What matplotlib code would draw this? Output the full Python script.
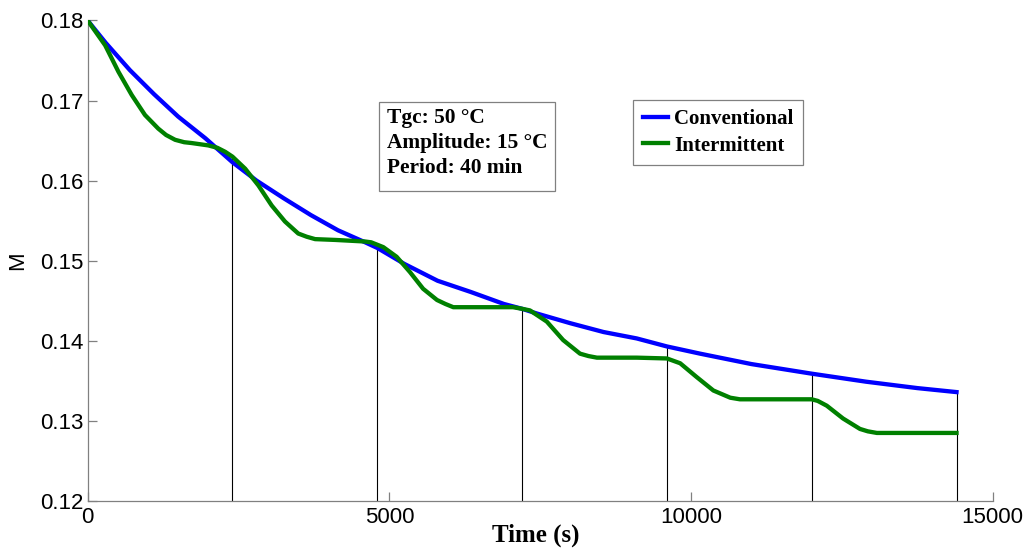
import matplotlib.pyplot as plt
import matplotlib.patches as patches
import numpy as np

# moisture content M vs time, conventional vs intermittent drying
t_conv = [0, 300, 700, 1100, 1500, 1950, 2400, 2800, 3250, 3700, 4150, 4600,
          4800, 5250, 5800, 6350, 6900, 7200, 7450, 8000, 8550, 9100, 9600,
          10150, 11000, 12000, 12900, 13750, 14400]
m_conv = [0.1800, 0.1772, 0.1738, 0.1708, 0.1680, 0.1653, 0.1623, 0.1600,
          0.1578, 0.1557, 0.1538, 0.1523, 0.1516, 0.1496, 0.1475, 0.1461,
          0.1446, 0.1440, 0.1434, 0.1422, 0.1411, 0.1403, 0.1393, 0.1384,
          0.1371, 0.1359, 0.1349, 0.1341, 0.1336]

t_int = [0, 290, 510, 730, 950, 1170, 1300, 1450, 1600, 1720, 2000, 2150,
         2280, 2400, 2610, 2830, 3050, 3270, 3490, 3630, 3770, 4100, 4600,
         4700, 4800, 4900, 5120, 5340, 5560, 5790, 5930, 6060, 6610, 7050,
         7200, 7330, 7610, 7880, 8160, 8300, 8440, 9100, 9600, 9820, 10090,
         10370, 10650, 10730, 10810, 11530, 12000, 12100, 12250, 12520,
         12800, 12930, 13080, 13740, 14400]
m_int = [0.1800, 0.1769, 0.1736, 0.1707, 0.1682, 0.1665, 0.1657, 0.1651,
         0.1648, 0.1647, 0.1644, 0.1641, 0.1636, 0.1630, 0.1615, 0.1594,
         0.1569, 0.1549, 0.1534, 0.1530, 0.1527, 0.1526, 0.1524, 0.1523,
         0.1520, 0.1517, 0.1505, 0.1486, 0.1465, 0.1451, 0.1446, 0.1442,
         0.1442, 0.1442, 0.1440, 0.1438, 0.1424, 0.1401, 0.1384, 0.1381,
         0.1379, 0.1379, 0.1378, 0.1372, 0.1355, 0.1338, 0.1329, 0.1328,
         0.1327, 0.1327, 0.1327, 0.1325, 0.1319, 0.1303, 0.1290, 0.1287,
         0.1285, 0.1285, 0.1285]

# end of each 40 min heating cycle
cycle_ends = [2400, 4800, 7200, 9600, 12000, 14400]

info_lines = ["Tgc: 50 \u00b0C", "Amplitude: 15 \u00b0C", "Period: 40 min"]

plt.rcParams['font.family'] = ['Liberation Sans', 'DejaVu Sans']
serif_bold = dict(family=['Liberation Serif', 'DejaVu Serif'], weight='bold')

fig = plt.figure(figsize=(10.30, 5.49), dpi=100)
ax = fig.add_axes([0.0851, 0.0874, 0.8787, 0.8753])

# cycle markers go up to the higher of the two curves
tops = np.maximum(np.interp(cycle_ends, t_conv, m_conv),
                  np.interp(cycle_ends, t_int, m_int))
ax.vlines(cycle_ends, 0.12, tops, color='black', lw=0.8, zorder=1)

ax.plot(t_conv, m_conv, color=(0, 0, 1), lw=3.1, label='Conventional', zorder=2,
        solid_joinstyle='round')
ax.plot(t_int, m_int, color=(0, 0.5, 0), lw=3.1, label='Intermittent', zorder=3,
        solid_joinstyle='round')

ax.set_xlim(0, 15000)
ax.set_ylim(0.12, 0.18)
ax.set_xticks([0, 5000, 10000, 15000])
ax.set_yticks([0.12, 0.13, 0.14, 0.15, 0.16, 0.17, 0.18])
ax.set_yticklabels(['0.12', '0.13', '0.14', '0.15', '0.16', '0.17', '0.18'])

for side in ['top', 'right']:
    ax.spines[side].set_visible(False)
for side in ['left', 'bottom']:
    ax.spines[side].set_color('#808080')
    ax.spines[side].set_linewidth(0.9)
ax.tick_params(direction='in', length=6.5, width=0.9, color='#808080',
               labelsize=16, pad=4)
ax.tick_params(axis='y', pad=3)

ax.set_ylabel('M', fontsize=16)
ax.yaxis.set_label_coords(-0.066, 0.5)
ax.set_xlabel('Time (s)', fontsize=18, **serif_bold)
ax.xaxis.set_label_coords(0.4955, -0.046)

leg = ax.legend(loc='upper left', bbox_to_anchor=(0.6149, 0.8179),
                bbox_transform=fig.transFigure, borderaxespad=0,
                fancybox=False, framealpha=1, edgecolor='#808080',
                prop=dict(family=['Liberation Serif', 'DejaVu Serif'],
                          weight='bold', size=15),
                handlelength=1.2, handletextpad=0.3, labelspacing=0.3,
                borderpad=0.45)
leg.get_frame().set_linewidth(0.9)

# parameter box
fig.patches.append(patches.Rectangle((379.3 / 1030, 1 - 190.7 / 549),
                                     (555 - 379.3) / 1030, (190.7 - 102.3) / 549,
                                     transform=fig.transFigure, fill=False,
                                     edgecolor='#808080', lw=0.9))
fig.text(387.3 / 1030, 1 - 108.5 / 549, "\n".join(info_lines), fontsize=15.4,
         va='top', ha='left', linespacing=1.32, **serif_bold)

fig.savefig('out.png', dpi=100)
